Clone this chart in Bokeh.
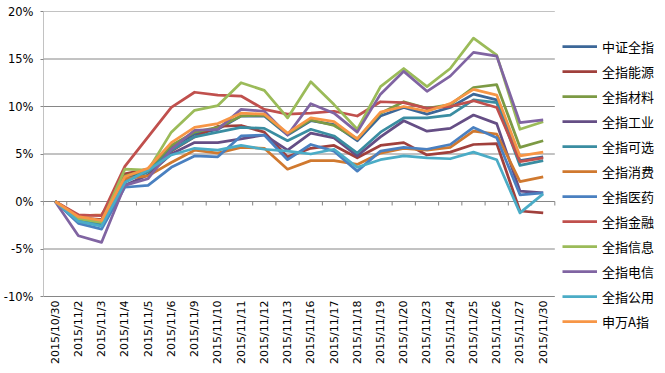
import numpy as np
from bokeh.plotting import figure
from bokeh.models import Legend, LegendItem, FixedTicker, PrintfTickFormatter, ColumnDataSource
from bokeh.core.properties import value
from bokeh.embed import file_html
from bokeh.resources import INLINE

dates = ["2015/10/30", "2015/11/2", "2015/11/3", "2015/11/4", "2015/11/5", "2015/11/6",
         "2015/11/9", "2015/11/10", "2015/11/11", "2015/11/12", "2015/11/13", "2015/11/16",
         "2015/11/17", "2015/11/18", "2015/11/19", "2015/11/20", "2015/11/23", "2015/11/24",
         "2015/11/25", "2015/11/26", "2015/11/27", "2015/11/30"]

names = ["中证全指", "全指能源", "全指材料", "全指工业", "全指可选", "全指消费",
         "全指医药", "全指金融", "全指信息", "全指电信", "全指公用", "申万A指"]

colors = ["#3C6798", "#A0403C", "#7C9A44", "#654E85", "#3A8DA1", "#D0792F",
          "#4A80C0", "#C0504D", "#9BBB59", "#8064A2", "#4BACC6", "#F79646"]

zzqz = [0, -1.9, -2.2, 2.4, 3.3, 5.7, 7.1, 7.6, 9.0, 9.0, 7.0, 8.5, 8.1, 6.4, 9.0, 9.9, 9.2, 9.9, 11.3, 10.7, 4.3, 4.7]
qzny = [0, -1.7, -1.9, 2.9, 3.4, 5.3, 6.8, 7.9, 8.0, 7.3, 4.7, 5.6, 5.9, 4.6, 5.9, 6.2, 4.9, 5.2, 6.0, 6.1, -1.0, -1.2]
qzcl = [0, -2.0, -2.4, 2.7, 3.3, 5.9, 7.3, 7.8, 9.0, 9.1, 7.1, 8.6, 8.0, 6.6, 9.3, 10.5, 9.8, 10.2, 12.0, 12.3, 5.7, 6.4]
qzgy = [0, -2.1, -2.5, 1.7, 2.8, 5.0, 6.2, 6.2, 6.6, 7.0, 5.4, 7.2, 6.7, 4.8, 6.8, 8.5, 7.4, 7.7, 9.1, 8.2, 1.1, 0.9]
qzkx = [0, -2.0, -2.3, 2.1, 3.1, 5.4, 6.8, 7.3, 7.8, 7.7, 6.4, 7.6, 6.9, 5.1, 7.3, 8.8, 8.8, 9.1, 10.7, 10.4, 3.8, 4.3]
qzxf = [0, -1.5, -1.4, 2.4, 2.7, 4.1, 5.4, 5.1, 5.7, 5.6, 3.4, 4.3, 4.3, 3.9, 5.1, 5.6, 5.4, 5.7, 7.4, 7.1, 2.1, 2.6]
qzyy = [0, -2.3, -2.9, 1.5, 1.7, 3.6, 4.8, 4.7, 6.9, 7.0, 4.4, 6.0, 5.3, 3.2, 5.3, 5.7, 5.5, 6.0, 7.8, 6.7, 0.7, 0.9]
qzjr = [0, -1.4, -1.5, 3.7, 6.8, 9.9, 11.5, 11.2, 11.1, 9.7, 9.2, 9.3, 9.5, 9.0, 10.5, 10.4, 9.8, 10.0, 10.6, 9.9, 4.2, 4.6]
qzxx = [0, -1.8, -2.2, 3.4, 3.3, 7.3, 9.6, 10.1, 12.5, 11.7, 8.8, 12.6, 10.2, 7.6, 12.1, 14.0, 12.1, 14.0, 17.2, 15.4, 7.6, 8.4]
qzdx = [0, -3.6, -4.3, 1.7, 2.4, 5.5, 7.5, 7.6, 9.7, 9.5, 7.0, 10.3, 9.3, 7.3, 11.3, 13.7, 11.6, 13.2, 15.7, 15.3, 8.3, 8.6]
qzgyy = [0, -2.1, -2.6, 2.0, 3.3, 4.9, 5.6, 5.4, 5.9, 5.5, 5.3, 5.0, 5.5, 3.6, 4.4, 4.8, 4.6, 4.5, 5.2, 4.4, -1.2, 0.8]
swaz = [0, -1.6, -2.0, 2.6, 3.5, 6.2, 7.8, 8.2, 9.3, 9.2, 7.2, 8.8, 8.4, 6.6, 9.4, 10.0, 9.5, 10.3, 11.8, 11.2, 4.8, 5.2]

series = [zzqz, qzny, qzcl, qzgy, qzkx, qzxf, qzyy, qzjr, qzxx, qzdx, qzgyy, swaz]

yticks = [-10, -5, 0, 5, 10, 15, 20]
grey = "#868686"

# layout constants (pixels)
FIG_W, FIG_H = 654, 364
TOP = 11          # frame top border
AXIS_W = 41       # width reserved for the y axis panel
PLOT_W = 513      # width of the category area
PLOT_H = 285      # height of the -10%..20% area
LEG_X = 519       # legend left, from frame left
ROW_H, ROW_GAP = 20, 5

n = len(dates)
xs = list(range(n))
frame_w = FIG_W - AXIS_W
frame_h = FIG_H - TOP
px_per_unit = PLOT_H / (yticks[-1] - yticks[0])
x_end = -0.5 + n * frame_w / PLOT_W
y_lo = yticks[0] - (frame_h - PLOT_H) / px_per_unit

p = figure(width=FIG_W, height=FIG_H, x_range=(-0.5, x_end), y_range=(y_lo, yticks[-1]),
           output_backend="svg", toolbar_location=None, x_axis_location=None,
           min_border_top=TOP, min_border_right=0, min_border_left=AXIS_W, min_border_bottom=0)
p.outline_line_color = None
p.background_fill_color = "white"
p.border_fill_color = "white"
p.xgrid.visible = False
p.ygrid.visible = False

# y axis: labels + small outer ticks only
p.yaxis.ticker = FixedTicker(ticks=yticks)
p.yaxis.formatter = PrintfTickFormatter(format="%d%%")
p.yaxis.axis_line_color = None
p.yaxis.major_tick_line_color = grey
p.yaxis.major_tick_out = 3
p.yaxis.major_tick_in = 0
p.yaxis.minor_tick_line_color = None
p.yaxis.major_label_standoff = 7
p.yaxis.major_label_text_font = "DejaVu Sans"
p.yaxis.major_label_text_font_size = "11.5px"
p.yaxis.major_label_text_color = "#000000"

# horizontal gridlines over the category area only
p.segment(x0=[-0.5] * len(yticks), y0=yticks, x1=[n - 0.5] * len(yticks), y1=yticks,
          line_color=grey, line_width=1)
# vertical axis line
p.segment(x0=[-0.5], y0=[yticks[0]], x1=[-0.5], y1=[yticks[-1]], line_color=grey, line_width=1)

# category-boundary tick marks on the 0% line
bounds = np.arange(n + 1) - 0.5
p.segment(x0=bounds, y0=np.zeros(len(bounds)), x1=bounds, y1=np.full(len(bounds), -4 / px_per_unit),
          line_color=grey, line_width=1)

# category labels below the plot area, rotated
label_y = yticks[0] - 4 / px_per_unit
p.text(x=xs, y=[label_y] * n, text=dates, angle=np.pi / 2, text_align="right",
       text_baseline="middle", text_font=value("DejaVu Sans"), text_font_size="11px",
       text_color="#000000")

# blank spacer entry that pushes the legend rows down
spacer = p.line(x=[], y=[], line_alpha=0)
items = [LegendItem(label=" ", renderers=[spacer])]
for name, col, ys in zip(names, colors, series):
    src = ColumnDataSource(dict(x=xs, y=ys))
    r = p.line("x", "y", source=src, line_color=col, line_width=2.75, line_join="round")
    items.append(LegendItem(label=name, renderers=[r]))

leg_h = len(items) * ROW_H + (len(items) - 1) * ROW_GAP
legend = Legend(items=items, location=(LEG_X, frame_h - leg_h))
legend.border_line_color = None
legend.background_fill_alpha = 0
legend.margin = 0
legend.padding = 0
legend.spacing = ROW_GAP
legend.glyph_width = 35
legend.glyph_height = ROW_H
legend.label_height = ROW_H
legend.label_standoff = 5
legend.label_text_font = "Noto Sans CJK SC"
legend.label_text_font_size = "13px"
legend.label_text_color = "#000000"
p.add_layout(legend)

open("out.html", "w").write(file_html(p, INLINE))
